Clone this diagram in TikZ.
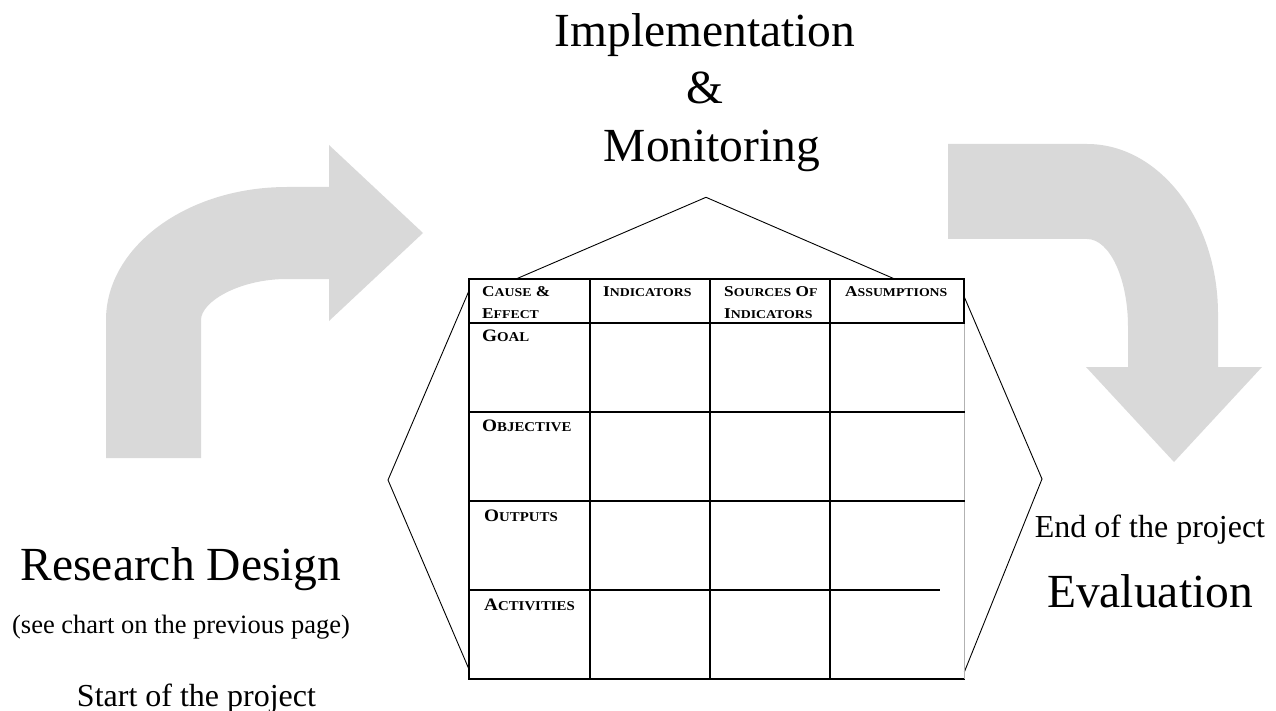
\documentclass[tikz,border=0pt]{standalone}
\usepackage{fontspec}
\setmainfont{Liberation Serif}
\usepackage{graphicx}
\usepackage{tikz}
\usetikzlibrary{positioning, calc}
\definecolor{arrowgray}{RGB}{217,217,217}
\newcommand{\wide}[2][1.15]{\scalebox{#1}[1]{#2}}
\newcommand{\hdsc}[2]{#1{\fontsize{12}{12}\selectfont #2}}
\newcommand{\rowsc}[2]{#1{\fontsize{13.5}{13.5}\selectfont #2}}

\begin{document}
\begin{tikzpicture}[
        x=1pt, y=1pt,
        bigtxt/.style={inner sep=0pt, font=\fontsize{47.5}{57}\selectfont},
        midtxt/.style={inner sep=0pt, font=\fontsize{32}{38}\selectfont},
        smalltxt/.style={inner sep=0pt, font=\fontsize{26.5}{32}\selectfont},
        hdr/.style={inner sep=0pt, anchor=base west, font=\fontsize{15}{18}\selectfont\bfseries},
        rowlabel/.style={inner sep=0pt, anchor=base west, font=\fontsize{17.5}{21}\selectfont\bfseries},
        tablerule/.style={line width=2pt, line cap=rect},
        hexline/.style={line width=0.9pt, line join=miter},
        bigarrow/.style={fill=arrowgray, draw=none}
    ]
    \useasboundingbox (0,0) rectangle (1276,-711);

    % Bent arrows
    \path[bigarrow] (106,-458) -- (106,-320)
        .. controls (106,-246.6) and (187,-187) .. (287,-187)
        -- (329,-187) -- (329,-145) -- (423,-233) -- (329,-321) -- (329,-279) -- (287,-279)
        .. controls (239.5,-279) and (201,-301.6) .. (201,-320)
        -- (201,-458) -- cycle;
    \path[bigarrow] (948,-144) -- (1087,-144)
        .. controls (1159.3,-144) and (1218,-220.2) .. (1218,-314)
        -- (1218,-367) -- (1262,-367) -- (1174,-462) -- (1086,-367) -- (1128,-367) -- (1128,-327)
        .. controls (1128,-278.4) and (1109.6,-239) .. (1087,-239)
        -- (948,-239) -- cycle;

    % Frame around the matrix
    \coordinate (apex) at (706,-197.3);
    \coordinate (lvert) at (388,-480);
    \coordinate (rvert) at (1042,-479);
    \draw[hexline] (516.7,-278.7) -- (apex) -- (894,-278.7);
    \draw[hexline] (469.3,-290) -- (lvert) -- (469.3,-670);
    \draw[hexline] (964.3,-297) -- (rvert) -- (964.3,-672);

    % Logframe matrix
    \draw[tablerule] (964.3,-322.7) -- (964.3,-278.7) -- (469.3,-278.7) -- (469.3,-678.7) -- (964.3,-678.7);
    \draw[gray!60, line width=1pt] (964.3,-322.7) -- (964.3,-678.7);
    \foreach \x in {590, 710, 830}
        \draw[tablerule] (\x,-278.7) -- (\x,-678.7);
    \foreach \y in {322.7, 411.7, 500.7}
        \draw[tablerule] (469.3,-\y) -- (964.3,-\y);
    \draw[tablerule] (469.3,-589.7) -- (939,-589.7);

    \node[hdr] (cause) at (482,-296) {\wide{\hdsc{C}{AUSE} \&}};
    \node[hdr] (effect) at (482,-318.3) {\wide{\hdsc{E}{FFECT}}};
    \node[hdr] (ind) at (603,-296) {\wide{\hdsc{I}{NDICATORS}}};
    \node[hdr] (src) at (724,-296) {\wide{\hdsc{S}{OURCES} \hdsc{O}{F}}};
    \node[hdr] (srcind) at (724,-318.3) {\wide{\hdsc{I}{NDICATORS}}};
    \node[hdr] (assum) at (845,-296) {\wide{\hdsc{A}{SSUMPTIONS}}};

    \node[rowlabel] (goal) at (482,-341.7) {\wide[1.1]{\rowsc{G}{OAL}}};
    \node[rowlabel] (obj) at (482,-431.7) {\wide[1.1]{\rowsc{O}{BJECTIVE}}};
    \node[rowlabel] (outp) at (484,-521.7) {\wide[1.1]{\rowsc{O}{UTPUTS}}};
    \node[rowlabel] (act) at (484,-610.7) {\wide[1.1]{\rowsc{A}{CTIVITIES}}};

    % Phase titles
    \node[bigtxt, anchor=base] (impl) at (705,-46.7) {Implementation};
    \node[bigtxt, below=57.3pt of impl.base, anchor=base] (amp) {\&};
    \node[bigtxt, below=57.7pt of amp.base, anchor=base, xshift=7pt] (moni) {Monitoring};

    \node[bigtxt, anchor=base] (rd) at (181,-580) {Research Design};
    \node[smalltxt, below=53pt of rd.base, anchor=base] (note) {(see chart on the previous page)};
    \node[midtxt, below=73pt of note.base, anchor=base, xshift=15.5pt] (start) {Start of the project};

    \node[midtxt, anchor=base] (endp) at (1150,-537) {End of the project};
    \node[bigtxt, below=70pt of endp.base, anchor=base] (eval) {Evaluation};
\end{tikzpicture}
\end{document}
